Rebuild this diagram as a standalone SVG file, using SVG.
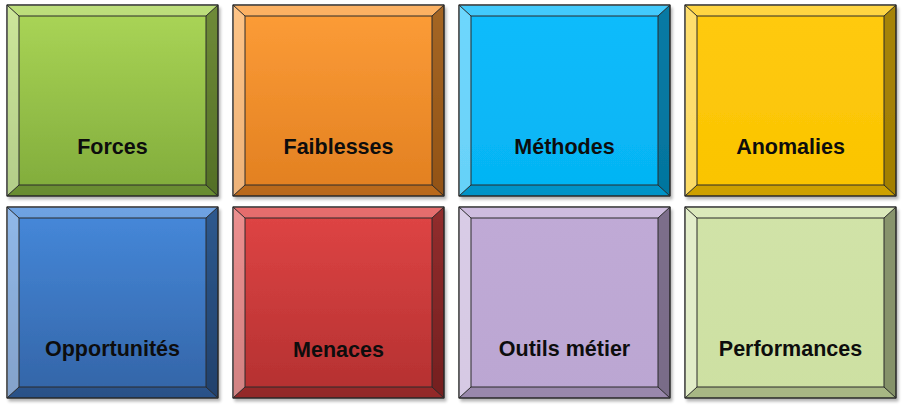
<svg xmlns="http://www.w3.org/2000/svg" xmlns:xlink="http://www.w3.org/1999/xlink" width="902" height="409" viewBox="0 0 902 409">
<style>
.face{stroke:#2b2b2b;stroke-width:1}
.bt{fill:#fff;fill-opacity:.22}
.bl{fill:#fff;fill-opacity:.4}
.br{fill:#000;fill-opacity:.35}
.bb{fill:#000;fill-opacity:.18}
.edge{fill:none;stroke:#2b2b2b;stroke-width:1;stroke-linejoin:round}
.lbl{font-family:"Liberation Sans",Arial,sans-serif;font-weight:bold;font-size:21.5px;fill:#0d0d0d;text-anchor:middle}
</style>
<defs>
<filter id="sh" x="-5%" y="-5%" width="115%" height="115%">
<feGaussianBlur in="SourceAlpha" stdDeviation="1.5"/>
<feOffset dx="1.5" dy="2.5"/>
<feComponentTransfer><feFuncA type="linear" slope="0.3"/></feComponentTransfer>
<feMerge><feMergeNode/><feMergeNode in="SourceGraphic"/></feMerge>
</filter>
<linearGradient id="g1" x1="0" y1="0" x2="0" y2="1"><stop offset="0" stop-color="#abd657"/><stop offset="1" stop-color="#80ab3b"/></linearGradient>
<linearGradient id="g2" x1="0" y1="0" x2="0" y2="1"><stop offset="0" stop-color="#fd9d38"/><stop offset="1" stop-color="#e17f20"/></linearGradient>
<linearGradient id="g3" x1="0" y1="0" x2="0" y2="1"><stop offset="0" stop-color="#0cbcfc"/><stop offset="1" stop-color="#05b4f3"/></linearGradient>
<linearGradient id="g4" x1="0" y1="0" x2="0" y2="1"><stop offset="0" stop-color="#ffca10"/><stop offset="1" stop-color="#fac400"/></linearGradient>
<linearGradient id="g5" x1="0" y1="0" x2="0" y2="1"><stop offset="0" stop-color="#4689db"/><stop offset="1" stop-color="#3364a6"/></linearGradient>
<linearGradient id="g6" x1="0" y1="0" x2="0" y2="1"><stop offset="0" stop-color="#e04545"/><stop offset="1" stop-color="#b33030"/></linearGradient>
<linearGradient id="g7" x1="0" y1="0" x2="0" y2="1"><stop offset="0" stop-color="#c0aad6"/><stop offset="1" stop-color="#bba6d2"/></linearGradient>
<linearGradient id="g8" x1="0" y1="0" x2="0" y2="1"><stop offset="0" stop-color="#d1e3a8"/><stop offset="1" stop-color="#cde0a2"/></linearGradient>
<g id="bev">
<polygon class="bt" points="0,0 211,0 199,11 12,11"/>
<polygon class="bl" points="0,0 12,11 12,180 0,191"/>
<polygon class="br" points="211,0 211,191 199,180 199,11"/>
<polygon class="bb" points="0,191 12,180 199,180 211,191"/>
<path class="edge" d="M0 0H211V191H0Z M12 11H199V180H12Z M0 0L12 11 M211 0L199 11 M211 191L199 180 M0 191L12 180"/>
</g>
</defs>
<g id="connectors"/>
<g id="forces" transform="translate(7,5)"><rect class="face" width="211" height="191" fill="url(#g1)" filter="url(#sh)"/><use xlink:href="#bev" href="#bev"/><text class="lbl" x="105.5" y="148.5">Forces</text></g>
<g id="faiblesses" transform="translate(233,5)"><rect class="face" width="211" height="191" fill="url(#g2)" filter="url(#sh)"/><use xlink:href="#bev" href="#bev"/><text class="lbl" x="105.5" y="149">Faiblesses</text></g>
<g id="methodes" transform="translate(459,5)"><rect class="face" width="211" height="191" fill="url(#g3)" filter="url(#sh)"/><use xlink:href="#bev" href="#bev"/><text class="lbl" x="105.5" y="149">Méthodes</text></g>
<g id="anomalies" transform="translate(685,5)"><rect class="face" width="211" height="191" fill="url(#g4)" filter="url(#sh)"/><use xlink:href="#bev" href="#bev"/><text class="lbl" x="105.5" y="149">Anomalies</text></g>
<g id="opportunites" transform="translate(7,207)"><rect class="face" width="211" height="191" fill="url(#g5)" filter="url(#sh)"/><use xlink:href="#bev" href="#bev"/><text class="lbl" x="105.5" y="149">Opportunités</text></g>
<g id="menaces" transform="translate(233,207)"><rect class="face" width="211" height="191" fill="url(#g6)" filter="url(#sh)"/><use xlink:href="#bev" href="#bev"/><text class="lbl" x="105.5" y="150">Menaces</text></g>
<g id="outils" transform="translate(459,207)"><rect class="face" width="211" height="191" fill="url(#g7)" filter="url(#sh)"/><use xlink:href="#bev" href="#bev"/><text class="lbl" x="105.5" y="149">Outils métier</text></g>
<g id="performances" transform="translate(685,207)"><rect class="face" width="211" height="191" fill="url(#g8)" filter="url(#sh)"/><use xlink:href="#bev" href="#bev"/><text class="lbl" x="105.5" y="149">Performances</text></g>
</svg>
